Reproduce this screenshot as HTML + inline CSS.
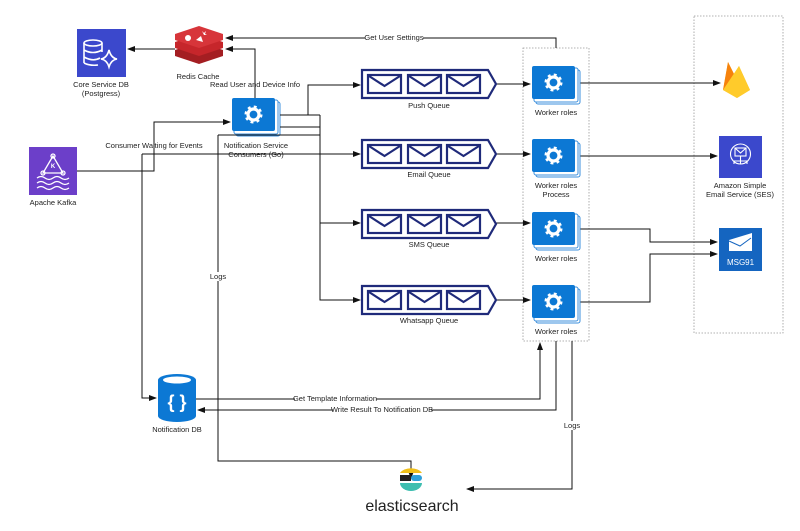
<!DOCTYPE html>
<html><head><meta charset="utf-8"><style>
html,body{margin:0;padding:0;background:#fff;width:800px;height:531px;overflow:hidden}
svg{display:block}
text{font-family:"Liberation Sans",sans-serif;font-size:7.5px;fill:#222}
</style></head><body>
<svg width="800" height="531" viewBox="0 0 800 531" xmlns="http://www.w3.org/2000/svg">
<defs>
<marker id="a" markerWidth="8" markerHeight="8" refX="7" refY="4" orient="auto" markerUnits="userSpaceOnUse"><path d="M0,1 L8,4 L0,7 z" fill="#111"/></marker>
<g id="env"><rect x="0" y="0" width="33" height="18" fill="#fff" stroke="#1f2a7a" stroke-width="2.2"/><path d="M1,1 L16.5,11 L32,1" fill="none" stroke="#1f2a7a" stroke-width="2.2"/></g>
<g id="q"><path d="M0,0 L126,0 L134,14 L126,28 L0,28 z" fill="#fff" stroke="#1f2a7a" stroke-width="2.2"/><use href="#env" x="6" y="5"/><use href="#env" x="46" y="5"/><use href="#env" x="85" y="5"/></g>
<g id="gear"><rect x="4" y="4" width="44" height="34" rx="2" fill="#fff" stroke="#3b8fdc" stroke-width="1"/><rect x="2" y="2" width="44" height="34" rx="2" fill="#fff" stroke="#3b8fdc" stroke-width="1"/><rect x="0" y="0" width="43" height="33" rx="2" fill="#0c78d4"/><circle cx="21.5" cy="16.5" r="7" fill="none" stroke="#fff" stroke-width="4" stroke-dasharray="2.6 2.9"/><circle cx="21.5" cy="16.5" r="5.5" fill="none" stroke="#fff" stroke-width="3.2"/></g>
</defs>

<rect x="523" y="48" width="66" height="293" fill="none" stroke="#999" stroke-width="0.8" stroke-dasharray="1.5 1.5"/>
<rect x="694" y="16" width="89" height="317" fill="none" stroke="#999" stroke-width="0.8" stroke-dasharray="1.5 1.5"/>

<rect x="77" y="29" width="49" height="48" fill="#3b48cc"/>
<g fill="none" stroke="#fff" stroke-width="1.6"><ellipse cx="93" cy="43" rx="9" ry="3"/><path d="M84,43 V63 M102,43 V52 M84,50 Q93,55 102,50 M84,57 Q93,62 100,58 M84,63 Q90,66 98,65"/><path d="M109,50 Q111,58 117,59 Q111,60 109,67 Q107,60 101,59 Q107,58 109,50z"/></g>
<text x="101" y="87" text-anchor="middle">Core Service DB</text>
<text x="101" y="96" text-anchor="middle">(Postgress)</text>

<g fill="#c6262b"><path d="M175,50 L199,42 L223,50 L223,56 L199,64 L175,56z" fill="#a41e22"/><path d="M175,42 L199,34 L223,42 L223,48 L199,56 L175,48z"/><path d="M175,34 L199,26 L223,34 L223,40 L199,48 L175,40z" fill="#d7353a"/></g>
<circle cx="188" cy="38" r="3" fill="#fff"/><path d="M196,40 L201,36 L203,42z" fill="#fff"/><path d="M202,31 l2,2 l2,-2 l-1,3 l2,1 l-3,0z" fill="#fff"/>
<text x="198" y="79" text-anchor="middle">Redis Cache</text>

<rect x="29" y="147" width="48" height="48" fill="#6c3fc9"/>
<g fill="none" stroke="#fff" stroke-width="1.3"><path d="M53,156 L43,173 L63,173 z"/><circle cx="53" cy="156" r="2"/><circle cx="43" cy="173" r="2"/><circle cx="63" cy="173" r="2"/><path d="M37,178 q4,-3 8,0 t8,0 t8,0 t8,0 M37,183 q4,-3 8,0 t8,0 t8,0 t8,0 M37,188 q4,-3 8,0 t8,0 t8,0 t8,0"/></g>
<text x="53" y="168" text-anchor="middle" style="font-size:6px;fill:#fff;font-weight:bold">K</text>
<text x="53" y="205" text-anchor="middle">Apache Kafka</text>

<use href="#gear" x="232" y="98"/>
<text x="256" y="148" text-anchor="middle">Notification Service</text>
<text x="256" y="157" text-anchor="middle">Consumers (Go)</text>

<g fill="none" stroke="#111" stroke-width="1">
<path d="M175,49 H128" marker-end="url(#a)"/>
<path d="M556,48 V38 H226" marker-end="url(#a)"/>
<path d="M255,98 V49 H226" marker-end="url(#a)"/>
<path d="M77,171 H154 V122 H230" marker-end="url(#a)"/>
<path d="M280,115 H320 M308,115 V85 H360" marker-end="url(#a)"/>
<path d="M280,127 H320 M218,135 H320 M320,115 V300 H360" marker-end="url(#a)"/>
<path d="M142,154 H360" marker-end="url(#a)"/>
<path d="M320,223 H360" marker-end="url(#a)"/>
<path d="M142,154 V398 H156" marker-end="url(#a)"/>
<path d="M496,84 H530" marker-end="url(#a)"/>
<path d="M496,154 H530" marker-end="url(#a)"/>
<path d="M496,223 H530" marker-end="url(#a)"/>
<path d="M496,300 H530" marker-end="url(#a)"/>
<path d="M580,83 H720" marker-end="url(#a)"/>
<path d="M580,156 H717" marker-end="url(#a)"/>
<path d="M580,229 H650 V242 H717" marker-end="url(#a)"/>
<path d="M580,302 H650 V254 H717" marker-end="url(#a)"/>
<path d="M196,399 H540 V343" marker-end="url(#a)"/>
<path d="M556,341 V410 H198" marker-end="url(#a)"/>
<path d="M572,341 V489 H467" marker-end="url(#a)"/>
<path d="M218,135 V461 H411 V478" marker-end="url(#a)"/>
</g>

<g>
<rect x="365" y="33" width="58" height="9" fill="#fff"/><text x="394" y="40" text-anchor="middle">Get User Settings</text>
<text x="255" y="87" text-anchor="middle">Read User and Device Info</text>
<text x="154" y="148" text-anchor="middle">Consumer Waiting for Events</text>
<rect x="210" y="272" width="17" height="9" fill="#fff"/><text x="218" y="279" text-anchor="middle">Logs</text>
<rect x="564" y="421" width="17" height="9" fill="#fff"/><text x="572" y="428" text-anchor="middle">Logs</text>
<rect x="295" y="395" width="81" height="9" fill="#fff"/><text x="335" y="401" text-anchor="middle">Get Template Information</text>
<rect x="333" y="405" width="98" height="9" fill="#fff"/><text x="382" y="412" text-anchor="middle">Write Result To Notification DB</text>
</g>

<use href="#q" x="362" y="70"/><text x="429" y="108" text-anchor="middle">Push Queue</text>
<use href="#q" x="362" y="140"/><text x="429" y="177" text-anchor="middle">Email Queue</text>
<use href="#q" x="362" y="210"/><text x="429" y="247" text-anchor="middle">SMS Queue</text>
<use href="#q" x="362" y="286"/><text x="429" y="323" text-anchor="middle">Whatsapp Queue</text>

<use href="#gear" x="532" y="66"/><text x="556" y="115" text-anchor="middle">Worker roles</text>
<use href="#gear" x="532" y="139"/><text x="556" y="188" text-anchor="middle">Worker roles</text><text x="556" y="197" text-anchor="middle">Process</text>
<use href="#gear" x="532" y="212"/><text x="556" y="261" text-anchor="middle">Worker roles</text>
<use href="#gear" x="532" y="285"/><text x="556" y="334" text-anchor="middle">Worker roles</text>

<path d="M723,90 L728,62 L734,74 L739,66 L750,90 L737,98 z" fill="#fcca3f"/>
<path d="M723,90 L728,62 L736,78 z" fill="#f6820c"/>
<path d="M723,90 L739,66 L750,90 L737,98z" fill="#ffcb2b"/>

<rect x="719" y="136" width="43" height="42" fill="#3b48cc"/>
<g fill="none" stroke="#fff" stroke-width="1.1"><circle cx="740.5" cy="154" r="10"/><rect x="735" y="148" width="11" height="8"/><path d="M735,148 L740.5,153 L746,148 M740.5,156 V161 M734,161 H747 M734,161 V164 M740.5,161 V164 M747,161 V164"/></g>
<text x="740" y="188" text-anchor="middle">Amazon Simple</text>
<text x="740" y="197" text-anchor="middle">Email Service (SES)</text>

<rect x="719" y="228" width="43" height="43" fill="#1565c0"/>
<path d="M729,240 L752,233 L752,251 L729,251z" fill="#fff"/><path d="M729,241 L740,246 L751,238" fill="none" stroke="#1565c0" stroke-width="1"/>
<text x="740.5" y="265" text-anchor="middle" style="fill:#fff;font-size:8px">MSG91</text>

<path d="M158,380 a19,6 0 0 1 38,0 V416 a19,6 0 0 1 -38,0z" fill="#0c78d4"/>
<ellipse cx="177" cy="380" rx="14" ry="3.5" fill="#fff"/>
<text x="177" y="408" text-anchor="middle" style="fill:#fff;font-size:18px;font-weight:bold">{ }</text>
<text x="177" y="432" text-anchor="middle">Notification DB</text>

<path d="M400,473 a12,8 0 0 1 22,0z" fill="#f0bf1a"/>
<rect x="400" y="475" width="11" height="6" fill="#231f20"/><rect x="411" y="475" width="11" height="6" rx="3" style="fill:#2d9fd9"/>
<path d="M400,483 h22 a11,8 0 0 1 -22,0z" fill="#3ebeb0"/>
<text x="412" y="511" text-anchor="middle" style="font-size:16px;fill:#222">elasticsearch</text>
</svg>
</body></html>
